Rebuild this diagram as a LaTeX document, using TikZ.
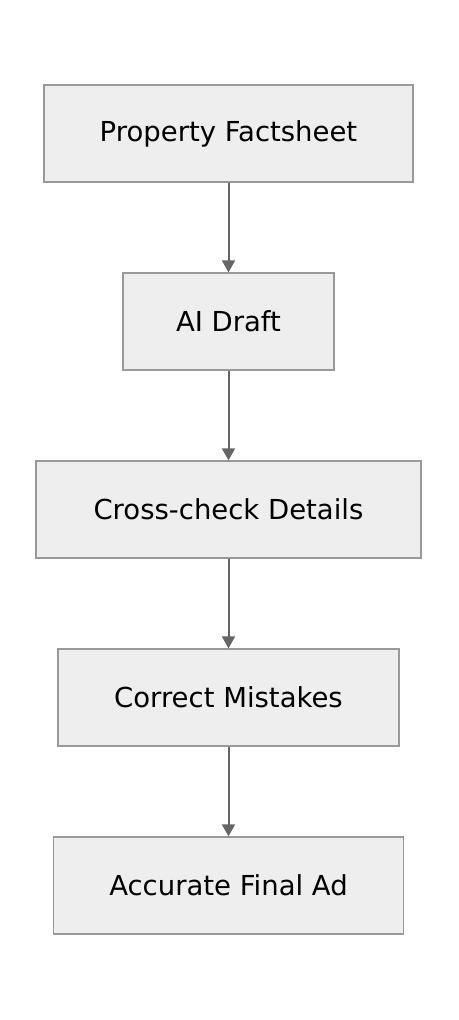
\documentclass[tikz,border=0pt]{standalone}
\usepackage{fontspec}
\setmainfont{DejaVu Sans}
\usetikzlibrary{positioning, arrows.meta}

\definecolor{boxfill}{HTML}{EEEEEE}
\definecolor{boxline}{HTML}{999999}
\definecolor{arrowline}{HTML}{666666}

\begin{document}
\begin{tikzpicture}[x=1pt, y=1pt, node distance=89.7pt,
  stepbox/.style={shape=rectangle, draw=boxline, fill=boxfill, line width=1.3pt,
    minimum height=97pt, align=center, font=\fontsize{27.5}{32}\selectfont},
  flow/.style={draw=arrowline, line width=2pt, -{Triangle[width=13pt,length=12pt]}}]
\useasboundingbox (0,0) rectangle (458,1020);
\node[stepbox, minimum width=369pt] (fact) at (228.5,886.5) {Property Factsheet};
\node[stepbox, minimum width=211pt, below=of fact] (draft) {AI Draft};
\node[stepbox, minimum width=385pt, below=of draft] (check) {Cross-check Details};
\node[stepbox, minimum width=341pt, below=of check] (fix) {Correct Mistakes};
\node[stepbox, minimum width=350pt, below=of fix] (final) {Accurate Final Ad};
\draw[flow] (fact) -- (draft);
\draw[flow] (draft) -- (check);
\draw[flow] (check) -- (fix);
\draw[flow] (fix) -- (final);
\end{tikzpicture}
\end{document}
